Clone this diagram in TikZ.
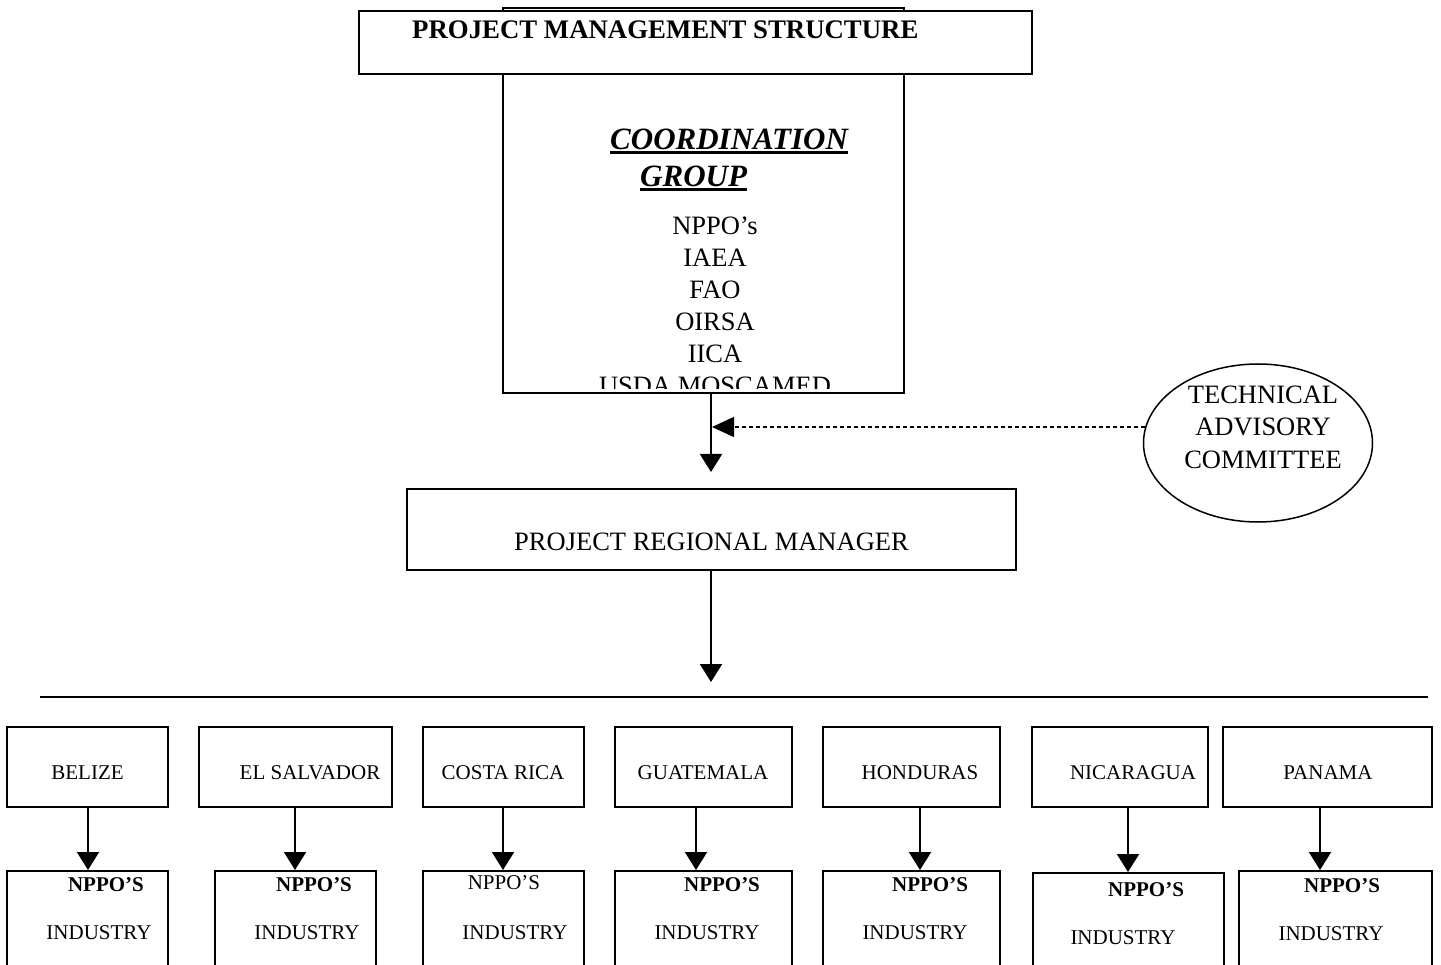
\documentclass[tikz,border=0pt]{standalone}
\usepackage{fontspec}
\setmainfont{Liberation Serif}
\usetikzlibrary{arrows.meta,shapes.geometric}
\tikzset{
  box/.style={draw, line width=2pt, rectangle, inner sep=0pt},
  small/.style={inner sep=0pt, anchor=base, font=\fontsize{21}{25}\selectfont},
  smallb/.style={small, font=\fontsize{21}{25}\selectfont\bfseries},
  big/.style={inner sep=0pt, anchor=base, font=\fontsize{26.5}{31}\selectfont},
  arr/.style={line width=2pt, -{Triangle[length=18pt,width=22pt]}},
  dasharr/.style={line width=1.5pt, dash pattern=on 4pt off 3pt, -{Triangle[length=22pt,width=20pt]}},
  ul/.style={line width=2.5pt},
}
\begin{document}
\begin{tikzpicture}[x=1pt,y=-1pt]
\useasboundingbox (0,0) rectangle (1441,965);
% coordination group box
\node[box, minimum width=401pt, minimum height=385pt] (cg) at (703.5,200.5) {};
\begin{scope}
  \clip (505,10) rectangle (902,389);
  \node[big, font=\fontsize{31}{36}\selectfont\bfseries\itshape, anchor=base west] (cgh1) at (610,150) {COORDINATION};
  \node[big, font=\fontsize{31}{36}\selectfont\bfseries\itshape, anchor=base west] (cgh2) at (640,187) {GROUP};
  \node[big] (m1) at (715,235) {NPPO’s};
  \node[big] (m2) at (715,267) {IAEA};
  \node[big] (m3) at (715,299) {FAO};
  \node[big] (m4) at (715,331) {OIRSA};
  \node[big] (m5) at (715,363) {IICA};
  \node[big] (m6) at (715,395) {USDA MOSCAMED};
\end{scope}
\draw[ul] ([yshift=-2.5pt]cgh1.base west) -- ([yshift=-2.5pt]cgh1.base east);
\draw[ul] ([yshift=-2.5pt]cgh2.base west) -- ([yshift=-2.5pt]cgh2.base east);
% title box
\node[box, fill=white, minimum width=673pt, minimum height=63pt] (title) at (695.5,42.5) {};
\node[big, font=\fontsize{26.8}{31}\selectfont\bfseries, anchor=base west] (titletxt) at (412,39) {PROJECT MANAGEMENT STRUCTURE};
% technical advisory committee
\node[draw, ellipse, line width=1.5pt, inner sep=0pt, minimum width=229pt, minimum height=158pt] (tac) at (1258,443) {};
\node[big] (tac1) at (1263,404) {TECHNICAL};
\node[big] (tac2) at (1263,436) {ADVISORY};
\node[big] (tac3) at (1263,468) {COMMITTEE};
% project regional manager
\node[box, minimum width=609pt, minimum height=81pt] (prm) at (711.5,529.5) {};
\node[big] (prmtxt) at (711.5,550) {PROJECT REGIONAL MANAGER};
% connectors
\coordinate (a1s) at (711,393);
\coordinate (a1e) at (711,472);
\draw[arr] (a1s) -- (a1e);
\coordinate (ds) at (1145,427);
\coordinate (de) at (712,427);
\draw[dasharr] (ds) -- (de);
\coordinate (a2s) at (711,570);
\coordinate (a2e) at (711,682);
\draw[arr] (a2s) -- (a2e);
\coordinate (hl1) at (40,697);
\coordinate (hl2) at (1428,697);
\draw[line width=2pt] (hl1) -- (hl2);
% country boxes
\node[box, minimum width=161pt, minimum height=80pt] (c1) at (87.5,767) {};
\node[box, minimum width=193pt, minimum height=80pt] (c2) at (295.5,767) {};
\node[box, minimum width=161pt, minimum height=80pt] (c3) at (503.5,767) {};
\node[box, minimum width=177pt, minimum height=80pt] (c4) at (703.5,767) {};
\node[box, minimum width=177pt, minimum height=80pt] (c5) at (911.5,767) {};
\node[box, minimum width=176pt, minimum height=80pt] (c6) at (1120,767) {};
\node[box, minimum width=209pt, minimum height=80pt] (c7) at (1327.5,767) {};
\node[small] (t1) at (87.5,779) {BELIZE};
\node[small] (t2) at (310,779) {EL SALVADOR};
\node[small] (t3) at (503,779) {COSTA RICA};
\node[small] (t4) at (703,779) {GUATEMALA};
\node[small] (t5) at (920,779) {HONDURAS};
\node[small] (t6) at (1133,779) {NICARAGUA};
\node[small] (t7) at (1328,779) {PANAMA};
% lower boxes (open at the bottom edge of the page)
\node[box, minimum width=161pt, minimum height=130pt] (n1) at (87.5,936) {};
\node[box, minimum width=161pt, minimum height=130pt] (n2) at (295.5,936) {};
\node[box, minimum width=161pt, minimum height=130pt] (n3) at (503.5,936) {};
\node[box, minimum width=177pt, minimum height=130pt] (n4) at (703.5,936) {};
\node[box, minimum width=177pt, minimum height=130pt] (n5) at (911.5,936) {};
\node[box, minimum width=191pt, minimum height=130pt] (n6) at (1128.5,938) {};
\node[box, minimum width=193pt, minimum height=130pt] (n7) at (1335.5,936) {};
\node[smallb] (p1) at (106,891) {NPPO’S};
\node[small] (i1) at (99,939) {INDUSTRY};
\node[smallb] (p2) at (314,891) {NPPO’S};
\node[small] (i2) at (307,939) {INDUSTRY};
\node[small] (p3) at (504,889) {NPPO’S};
\node[small] (i3) at (515,939) {INDUSTRY};
\node[smallb] (p4) at (722,891) {NPPO’S};
\node[small] (i4) at (707,939) {INDUSTRY};
\node[smallb] (p5) at (930,891) {NPPO’S};
\node[small] (i5) at (915,939) {INDUSTRY};
\node[smallb] (p6) at (1146,896) {NPPO’S};
\node[small] (i6) at (1123,944) {INDUSTRY};
\node[smallb] (p7) at (1342,892) {NPPO’S};
\node[small] (i7) at (1331,940) {INDUSTRY};
% country arrows
\draw[arr] (c1.south -| 88,0) -- (n1.north -| 88,0);
\draw[arr] (c2.south -| 295,0) -- (n2.north -| 295,0);
\draw[arr] (c3.south -| 503,0) -- (n3.north -| 503,0);
\draw[arr] (c4.south -| 696,0) -- (n4.north -| 696,0);
\draw[arr] (c5.south -| 920,0) -- (n5.north -| 920,0);
\draw[arr] (c6.south -| 1128,0) -- (n6.north -| 1128,0);
\draw[arr] (c7.south -| 1320,0) -- (n7.north -| 1320,0);
\end{tikzpicture}
\end{document}
